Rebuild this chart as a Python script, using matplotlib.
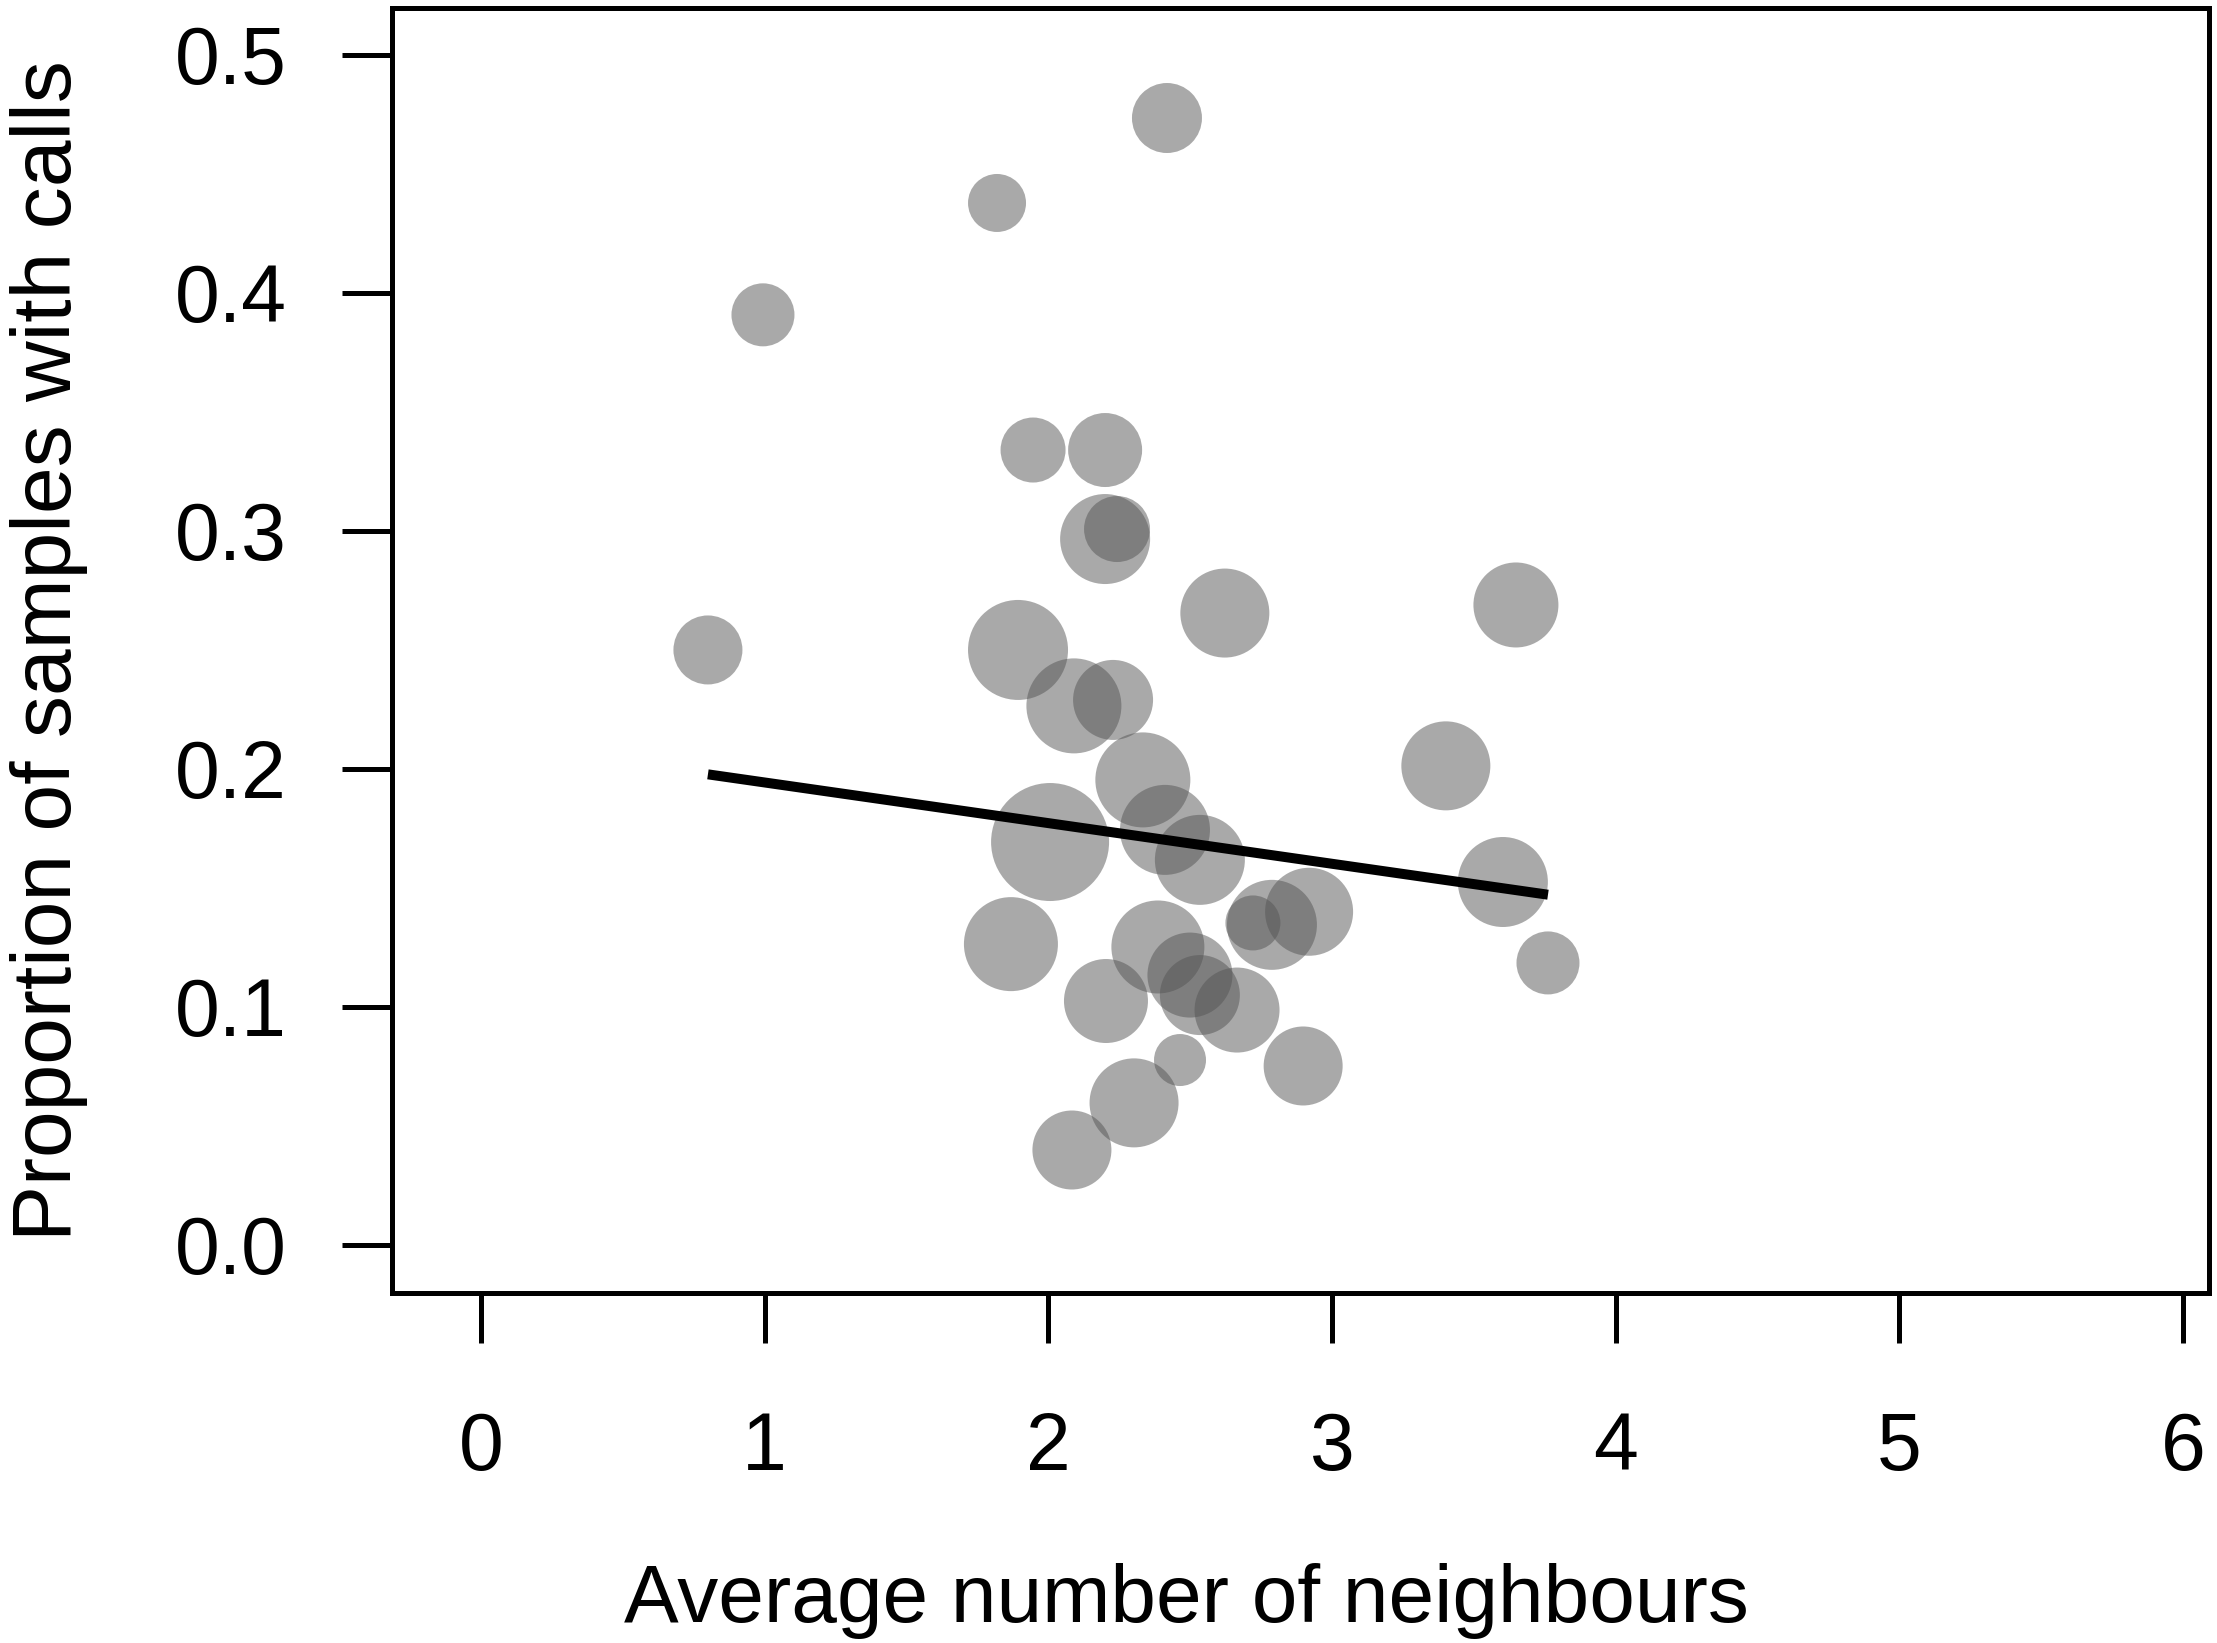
import numpy as np
import matplotlib
matplotlib.use('Agg')
import matplotlib.pyplot as plt

plt.rcParams['font.family'] = ['Liberation Sans', 'DejaVu Sans']

# =============================================================================
# Data
# =============================================================================
# average number of neighbours per site
avg_neighbours = [2.418, 1.819, 0.994, 1.946, 2.200, 2.200, 2.242, 0.800,
                  2.622, 1.893, 2.090, 2.228, 3.648, 3.401, 2.333, 2.006,
                  2.411, 2.534, 3.602, 3.761, 1.868, 2.386, 2.499, 2.534,
                  2.665, 2.721, 2.788, 2.919, 2.203, 2.898, 2.464, 2.302,
                  2.083]
# proportion of samples with calls
prop_calls = [0.4735, 0.4378, 0.3908, 0.334, 0.334, 0.2966, 0.3008, 0.250,
              0.2655, 0.250, 0.2265, 0.229, 0.2689, 0.2013, 0.1954, 0.1693,
              0.1744, 0.1618, 0.1525, 0.1185, 0.1264, 0.1252, 0.1134, 0.105,
              0.0987, 0.1353, 0.1345, 0.140, 0.1025, 0.0752, 0.0777, 0.0597,
              0.0399]
# relative point size (marker diameter)
point_size = [70, 58, 63, 65, 74, 90, 66, 69,
              89, 100, 95, 80, 85, 89, 95, 118,
              90, 90, 90, 63, 94, 93, 85, 80,
              85, 55, 90, 88, 84, 79, 52, 89,
              79]
# fitted model line
fit_intercept = 0.2114
fit_slope = -0.01708

x_ticks = [0, 1, 2, 3, 4, 5, 6]
y_ticks = [0.0, 0.1, 0.2, 0.3, 0.4, 0.5]
y_tick_labels = ['0.0', '0.1', '0.2', '0.3', '0.4', '0.5']

# =============================================================================
# Plot
# =============================================================================
fig = plt.figure(figsize=(22.17, 16.43), dpi=100)
ax = fig.add_axes([0.1768, 0.2130, 0.8196, 0.7821])

x = np.array(avg_neighbours)
y = np.array(prop_calls)
s = (np.array(point_size) * 0.72) ** 2
ax.scatter(x, y, s=s, c='#555555', alpha=0.5, linewidths=0, zorder=2)

xf = np.array([x.min(), x.max()])
ax.plot(xf, fit_intercept + fit_slope * xf, color='black', lw=7.2,
        solid_capstyle='butt', zorder=3)

ax.set_xlim(-0.3137, 6.091)
ax.set_ylim(-0.0202, 0.5197)
ax.set_xticks(x_ticks)
ax.set_yticks(y_ticks)
ax.set_yticklabels(y_tick_labels)

for sp in ax.spines.values():
    sp.set_linewidth(3.6)
ax.tick_params(axis='both', direction='out', length=36, width=3.6,
               labelsize=58)
ax.tick_params(axis='x', pad=49)
ax.tick_params(axis='y', pad=40)

fig.text(0.535, 0.0128, 'Average number of neighbours', fontsize=59,
         ha='center', va='baseline')
fig.text(0.0221, 0.604, 'Proportion of samples with calls', fontsize=60.5,
         rotation=90, ha='center', va='center')

plt.savefig('out.png', dpi=100)
